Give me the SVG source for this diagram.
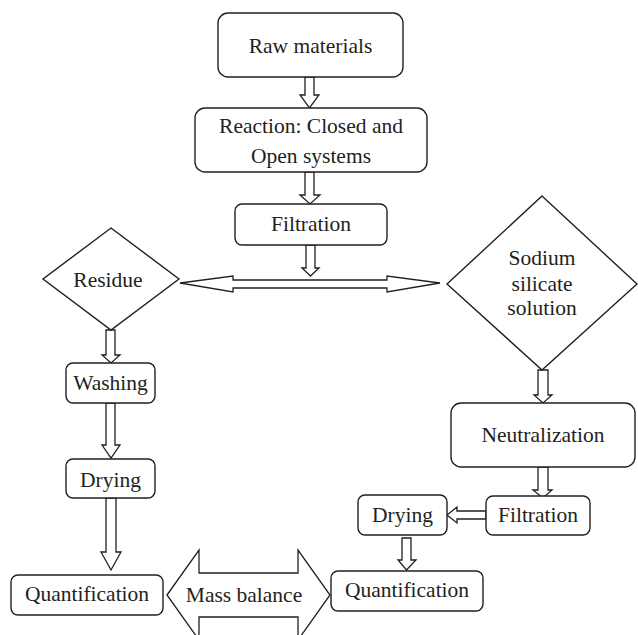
<svg xmlns="http://www.w3.org/2000/svg" width="638" height="635" viewBox="0 0 638 635">
<style>
.box{fill:#fff;stroke:#231f20;stroke-width:1.4}
.arr{fill:#fff;stroke:#231f20;stroke-width:1.3;stroke-linejoin:miter}
text{font-family:"Liberation Serif","Times New Roman",serif;font-size:21.5px;fill:#231f20;text-anchor:middle}
</style>
<rect width="638" height="635" fill="#fff"/>
<g id="connectors">
<polygon class="arr" points="305,77 314,77 314,95 319,95 309.5,108 300,95 305,95"/>
<polygon class="arr" points="305,172 314,172 314,195 320,195 310,204 300,195 305,195"/>
<polygon class="arr" points="306,245 315,245 315,268 319,268 310.5,276 302,268 306,268"/>
<polygon class="arr" points="180,283 233,276 233,280 387,280 387,276 440,283 387,292 387,288 233,288 233,292"/>
<polygon class="arr" points="106,330 115,330 115,355 120,355 111,363 102,355 106,355"/>
<polygon class="arr" points="106,403 115,403 115,445 120,445 111,458 102,445 106,445"/>
<polygon class="arr" points="106,498 116,498 116,552 121,552 111,570 101,552 106,552"/>
<polygon class="arr" points="538,370 548,370 548,395 552,395 543,403 534,395 538,395"/>
<polygon class="arr" points="538,467 548,467 548,490 552,490 543,498 533,490 538,490"/>
<polygon class="arr" points="486,511 457,511 457,507 447,515 457,523 457,519 486,519"/>
<polygon class="arr" points="402,538 411,538 411,560 416,560 406.5,570 398,560 402,560"/>
<polygon class="arr" points="167,595 199,550 199,573 298,573 298,550 330,595 298,640 298,617 199,617 199,640"/>
</g>
<g id="raw"><rect class="box" x="218" y="13" width="185" height="64" rx="10"/><text x="310.5" y="53">Raw materials</text></g>
<g id="reaction"><rect class="box" x="195" y="108" width="232" height="64" rx="10"/><text x="311" y="133">Reaction: Closed and</text><text x="311" y="163">Open systems</text></g>
<g id="filtration1"><rect class="box" x="235" y="204" width="152" height="41" rx="7"/><text x="311" y="231">Filtration</text></g>
<g id="residue"><polygon class="box" points="111,228 179,279 111,330 43,279"/><text x="108" y="287">Residue</text></g>
<g id="sodium"><polygon class="box" points="542,196 637,284 542,370 447,284"/><text x="542" y="265">Sodium</text><text x="542" y="291">silicate</text><text x="542" y="315">solution</text></g>
<g id="washing"><rect class="box" x="66" y="363" width="89" height="40" rx="7"/><text x="110.5" y="390">Washing</text></g>
<g id="drying1"><rect class="box" x="66" y="459" width="89" height="39" rx="7"/><text x="110.5" y="487">Drying</text></g>
<g id="quant1"><rect class="box" x="11" y="575" width="152" height="40" rx="7"/><text x="87" y="601">Quantification</text></g>
<g id="massbalance"><text x="244" y="602">Mass balance</text></g>
<g id="neutralization"><rect class="box" x="451" y="403" width="184" height="64" rx="10"/><text x="543" y="442">Neutralization</text></g>
<g id="filtration2"><rect class="box" x="486" y="496" width="104" height="39" rx="7"/><text x="538" y="522">Filtration</text></g>
<g id="drying2"><rect class="box" x="358" y="495" width="89" height="40" rx="7"/><text x="402.5" y="522">Drying</text></g>
<g id="quant2"><rect class="box" x="331" y="571" width="152" height="40" rx="7"/><text x="407" y="597">Quantification</text></g>
</svg>
